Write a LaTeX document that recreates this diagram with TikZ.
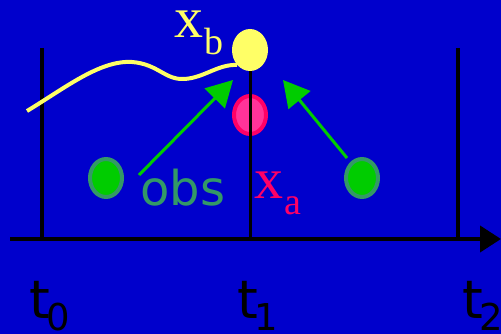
\documentclass[tikz,border=0pt]{standalone}
\usepackage{fontspec}
\setmainfont{Liberation Serif}
\setsansfont{DejaVu Sans}
\usetikzlibrary{arrows.meta,positioning,shapes.geometric}
\definecolor{bgblue}{HTML}{0000CC}
\definecolor{ballyellow}{HTML}{FFFF66}
\definecolor{obsgreen}{HTML}{00CC00}
\definecolor{obsrim}{HTML}{339966}
\definecolor{anapink}{HTML}{FF0066}
\definecolor{anafill}{HTML}{FF3399}
\newcommand{\lowsub}[3]{\kern#1\raisebox{#2}{\fontsize{38}{38}\selectfont #3}}

\begin{document}
\begin{tikzpicture}[x=1pt, y=-1pt, ball/.style={ellipse, minimum width=36pt, minimum height=42pt, inner sep=0pt}, tick/.style={line width=3.5pt}, obsarr/.style={-{Triangle[length=26pt, width=28pt]}, obsgreen, line width=3pt, shorten >=0pt}, tlabel/.style={anchor=base west, inner sep=0pt, font=\sffamily\fontsize{53}{53}\selectfont}, xlabel/.style={anchor=base west, inner sep=0pt, font=\rmfamily\fontsize{58}{58}\selectfont}]
\fill[bgblue] (0,0) rectangle (501,334);
\useasboundingbox (0,0) rectangle (501,334);
% time axis and ticks
\coordinate (axstart) at (10,239);
\coordinate (axend) at (501,239);
\coordinate (t0top) at (42,48);
\coordinate (t0bot) at (42,239);
\coordinate (t2top) at (458,48);
\coordinate (t2bot) at (458,239);
\coordinate (t1bot) at (250,239);
\draw[tick] (t0top) -- (t0bot);
\draw[tick] (t2top) -- (t2bot);
\draw[line width=4pt, -{Triangle[length=21pt, width=26pt]}] (axstart) -- (axend);
% states
\node[ball, fill=ballyellow] (xb) at (250,50) {};
\node[ball, fill=anafill, draw=anapink, line width=4pt, minimum width=32pt, minimum height=38pt] (xa) at (250,115) {};
\node[ball, fill=obsgreen, draw=obsrim, line width=4pt, minimum width=32pt, minimum height=38pt] (obsl) at (106,178) {};
\node[ball, fill=obsgreen, draw=obsrim, line width=4pt, minimum width=32pt, minimum height=38pt] (obsr) at (362,178) {};
\draw[line width=3pt] (xb.south) -- (t1bot);
% background trajectory
\coordinate (trajstart) at (27,111);
\draw[ballyellow, line width=4pt] (trajstart) .. controls (65,88) and (100,60) .. (132,62) .. controls (158,64) and (165,80) .. (184,79) .. controls (204,78) and (218,64) .. (xb.south west);
% observations pulling the state
\coordinate (arrlfrom) at (139,175);
\coordinate (arrlto) at (233,80);
\coordinate (arrrfrom) at (347,158);
\coordinate (arrrto) at (283,80);
\draw[obsarr] (arrlfrom) -- (arrlto);
\draw[obsarr] (arrrfrom) -- (arrrto);
% labels
\node[xlabel, text=ballyellow] (xblabel) at (174,38) {x\lowsub{1pt}{-17pt}{b}};
\node[xlabel, text=anapink] (xalabel) at (254,198) {x\lowsub{1pt}{-17pt}{a}};
\node[anchor=base west, inner sep=0pt, text=obsrim, font=\sffamily\fontsize{48}{48}\selectfont] (obslabel) at (140,205) {obs};
\node[tlabel] (t0label) at (29,318) {t\kern-3pt\raisebox{-12pt}{\fontsize{37}{37}\selectfont 0}};
\node[tlabel] (t1label) at (237,318) {t\kern-3pt\raisebox{-12pt}{\fontsize{37}{37}\selectfont 1}};
\node[tlabel] (t2label) at (462,318) {t\kern-3pt\raisebox{-12pt}{\fontsize{37}{37}\selectfont 2}};
\end{tikzpicture}
\end{document}
